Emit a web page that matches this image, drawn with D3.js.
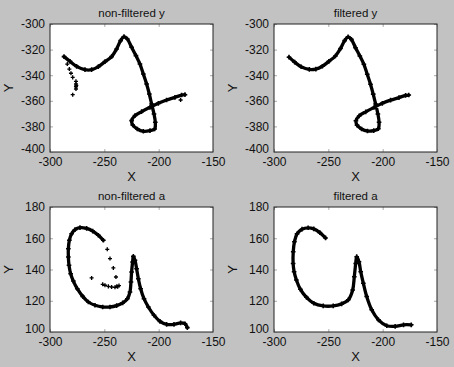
<!DOCTYPE html>
<html>
<head>
<meta charset="utf-8">
<script src="https://cdn.jsdelivr.net/npm/d3@7"></script>
<style>
  body { margin: 0; background: #c2c2c2; }
  svg { display: block; }
  text { font-family: Arial, "Liberation Sans", sans-serif; fill: #111; }
</style>
</head>
<body>
<svg width="454" height="367"></svg>
<script>
// tick values
var xTicks = [-300, -250, -200, -150];
var yTicksY = [-400, -380, -360, -340, -320, -300];
var yTicksA = [100, 120, 140, 160, 180];

// non-filtered y : main trajectory + stray points
var nfyPath = [
  [-287.1,-325.5],[-281.6,-329.2],[-275.5,-333.1],[-267.8,-335.7],[-261.7,-335.7],
  [-255.5,-333.3],[-249.4,-329.4],[-243.3,-325.5],[-238.7,-319.5],[-235.0,-313.0],
  [-231.9,-309.9],[-228.8,-311.7],[-224.9,-318.2],[-220.9,-324.7],[-217.2,-331.3],
  [-214.1,-339.1],[-211.1,-346.9],[-208.6,-354.7],[-206.5,-362.5],[-204.3,-370.3],
  [-203.1,-376.8],[-203.7,-382.0],[-208.0,-383.3],[-214.1,-383.8],[-219.6,-382.0],
  [-223.9,-378.9],[-224.9,-375.5],[-221.8,-371.6],[-215.7,-368.5],[-208.0,-365.1],
  [-200.3,-362.0],[-192.7,-359.4],[-185.0,-357.3],[-178.9,-355.5],[-175.8,-355.2]
];
var nfyStray = [
  [-284.1,-331.3],[-282.2,-335.2],[-280.7,-338.5],[-279.1,-341.7],[-276.1,-344.8],
  [-276.1,-346.9],[-276.1,-349.0],[-276.1,-350.8],[-275.8,-347.9],[-279.1,-355.2],
  [-179.8,-359.4]
];

// filtered y
var fyPath = [
  [-286.2,-325.9],[-281.0,-329.8],[-275.0,-333.4],[-267.5,-335.5],[-261.5,-335.2],
  [-255.5,-333.0],[-249.5,-329.2],[-243.5,-325.0],[-238.8,-319.2],[-235.0,-313.0],
  [-231.8,-310.0],[-228.8,-312.0],[-225.0,-318.5],[-221.0,-325.0],[-217.3,-331.5],
  [-214.2,-339.2],[-211.2,-347.0],[-208.7,-354.8],[-206.5,-362.5],[-204.4,-370.3],
  [-203.3,-376.8],[-204.0,-381.8],[-208.2,-383.3],[-214.0,-383.6],[-219.4,-382.0],
  [-223.6,-379.0],[-224.6,-375.6],[-221.6,-371.8],[-215.6,-368.6],[-208.0,-365.2],
  [-200.3,-362.0],[-192.7,-359.5],[-185.0,-357.5],[-178.9,-355.8],[-176.0,-355.5]
];

// non-filtered a
var nfaPath = [
  [-250.9,158.7],[-255.5,161.9],[-260.7,164.6],[-266.3,166.3],[-272.4,166.8],
  [-277.0,165.5],[-280.1,162.9],[-282.2,158.7],[-283.1,153.3],[-283.1,148.0],
  [-282.5,142.7],[-281.0,137.3],[-278.5,132.6],[-274.9,127.7],[-269.9,122.8],
  [-264.7,119.2],[-258.6,117.1],[-251.5,116.0],[-244.8,116.0],[-238.7,116.9],
  [-233.1,118.6],[-228.8,121.3],[-226.4,125.6],[-225.5,132.0],[-224.9,138.4],
  [-224.0,144.8],[-223.3,148.4],[-221.8,145.9],[-220.3,140.5],[-218.7,134.1],
  [-216.6,127.7],[-213.5,121.3],[-209.5,116.0],[-204.3,110.7],[-198.8,106.8],
  [-192.7,104.9],[-185.9,104.9],[-179.8,105.8],[-175.8,105.3],[-173.6,102.8]
];
var nfaStray = [
  [-247.3,152.9],[-244.8,147.0],[-241.7,141.0],[-239.3,135.2],[-261.7,134.6],
  [-251.5,130.5],[-249.4,129.9],[-246.3,129.2],[-243.3,128.8],[-240.2,128.6],
  [-237.7,129.0],[-236.5,129.7],[-238.5,129.3]
];

// filtered a
var faPath = [
  [-252.6,160.2],[-257.8,163.6],[-263.4,166.0],[-268.6,166.7],[-274.2,165.8],
  [-278.8,162.8],[-281.2,157.7],[-282.3,151.3],[-282.4,143.9],[-281.5,138.6],
  [-279.4,133.3],[-275.7,127.3],[-270.1,122.2],[-263.4,118.4],[-254.7,116.7],
  [-245.5,116.7],[-237.8,118.0],[-231.6,120.6],[-227.6,126.9],[-226.1,135.4],
  [-224.8,143.9],[-223.9,148.2],[-221.8,145.0],[-220.2,138.6],[-217.8,131.2],
  [-214.7,122.7],[-210.1,114.2],[-203.9,107.8],[-196.2,104.0],[-188.5,103.6],
  [-180.8,104.6],[-173.7,104.6]
];

var svg = d3.select("svg");

var panels = [
  {title: "non-filtered y", left: 50,  top: 24,  w: 163, h: 128, yd: [-400, -300], yt: yTicksY, path: nfyPath, stray: nfyStray},
  {title: "filtered y",     left: 274, top: 24,  w: 163, h: 128, yd: [-400, -300], yt: yTicksY, path: fyPath,  stray: []},
  {title: "non-filtered a", left: 50,  top: 207, w: 163, h: 125, yd: [100, 180],   yt: yTicksA, path: nfaPath, stray: nfaStray},
  {title: "filtered a",     left: 274, top: 207, w: 163, h: 125, yd: [100, 180],   yt: yTicksA, path: faPath,  stray: []}
];

var crossBig = d3.symbol().type(d3.symbolCross).size(12);
var crossSmall = d3.symbol().type(d3.symbolCross).size(9);

panels.forEach(function(p) {
  var x = d3.scaleLinear().domain([-300, -150]).range([0, p.w]);
  var y = d3.scaleLinear().domain(p.yd).range([p.h, 0]);

  var g = svg.append("g").attr("transform", "translate(" + p.left + "," + p.top + ")");

  g.append("rect")
    .attr("width", p.w).attr("height", p.h)
    .attr("fill", "#fff");

  // ticks pointing inwards on all four sides, matlab style
  var xa = g.append("g").attr("transform", "translate(0," + p.h + ")")
    .call(d3.axisBottom(x).tickValues(xTicks).tickSizeInner(-3).tickSizeOuter(0).tickPadding(5));
  var ya = g.append("g")
    .call(d3.axisLeft(y).tickValues(p.yt).tickSizeInner(-3).tickSizeOuter(0).tickPadding(5));
  g.append("g").call(d3.axisTop(x).tickValues(xTicks).tickSizeInner(-3).tickSizeOuter(0).tickFormat(""));
  g.append("g").attr("transform", "translate(" + p.w + ",0)")
    .call(d3.axisRight(y).tickValues(p.yt).tickSizeInner(-3).tickSizeOuter(0).tickFormat(""));

  g.selectAll(".domain").remove();
  g.selectAll(".tick line").attr("stroke", "#aaa");
  [xa, ya].forEach(function(a) {
    a.selectAll("text").attr("fill", "#111").style("font-size", "12px")
      .style("font-family", "Arial, 'Liberation Sans', sans-serif")
      .text(function(d) { return d3.format("d")(d).replace("−", "-"); });
  });
  // lowest y label sits a little higher, clear of the x labels
  ya.selectAll(".tick text").filter(function(d) { return d === p.yd[0]; })
    .attr("dy", "0.05em");

  g.append("rect")
    .attr("width", p.w).attr("height", p.h)
    .attr("fill", "none").attr("stroke", "#222").attr("stroke-width", 1);

  // trajectory
  var line = d3.line()
    .x(function(d) { return x(d[0]); })
    .y(function(d) { return y(d[1]); })
    .curve(d3.curveCatmullRom);

  g.append("path")
    .datum(p.path)
    .attr("d", line)
    .attr("fill", "none")
    .attr("stroke", "#000")
    .attr("stroke-width", 3.3)
    .attr("stroke-linecap", "round")
    .attr("stroke-linejoin", "round");

  g.selectAll(".pt")
    .data(p.path)
    .enter().append("path")
    .attr("class", "pt")
    .attr("d", crossBig)
    .attr("transform", function(d) { return "translate(" + x(d[0]) + "," + y(d[1]) + ")"; })
    .attr("fill", "#000");

  g.selectAll(".st")
    .data(p.stray)
    .enter().append("path")
    .attr("class", "st")
    .attr("d", crossSmall)
    .attr("transform", function(d) { return "translate(" + x(d[0]) + "," + y(d[1]) + ")"; })
    .attr("fill", "#000");

  // labels
  g.append("text")
    .attr("x", p.w / 2).attr("y", -7)
    .attr("text-anchor", "middle")
    .style("font-size", "11.5px")
    .text(p.title);

  g.append("text")
    .attr("x", p.w / 2).attr("y", p.h + 29)
    .attr("text-anchor", "middle")
    .style("font-size", "13px")
    .text("X");

  g.append("text")
    .attr("transform", "translate(-37," + (p.h / 2) + ") rotate(-90)")
    .attr("text-anchor", "middle")
    .style("font-size", "13px")
    .text("Y");
});
</script>
</body>
</html>
